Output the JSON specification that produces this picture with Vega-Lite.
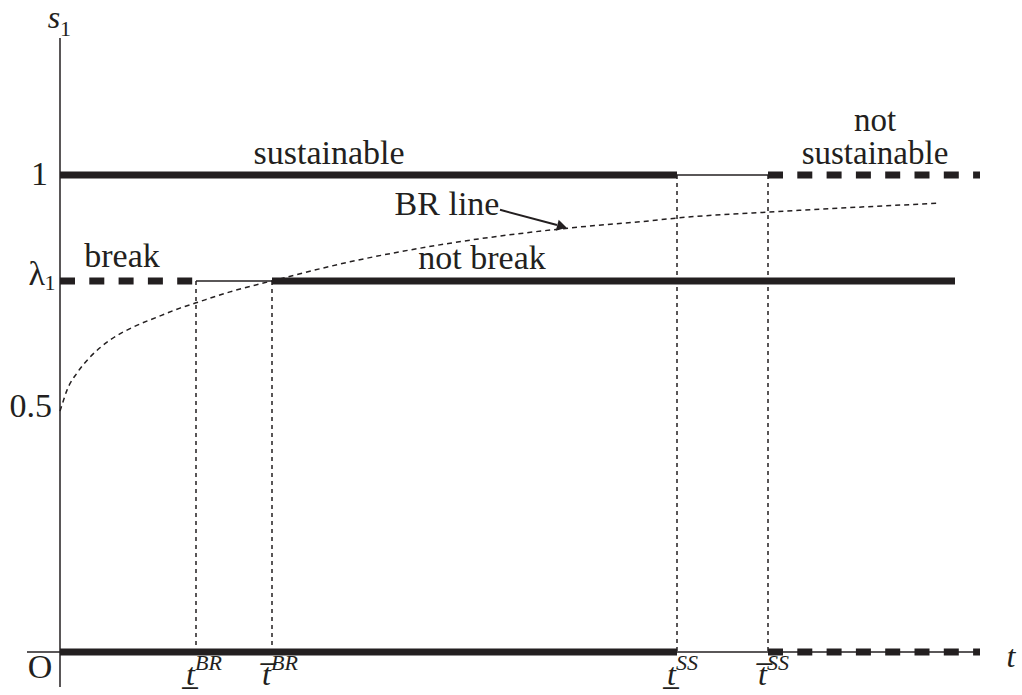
{
  "$schema": "https://vega.github.io/schema/vega-lite/v6.json",
  "width": 1022,
  "height": 695,
  "padding": 0,
  "autosize": {"type": "none"},
  "background": "white",
  "config": {
    "view": {"stroke": null},
    "text": {"font": "Liberation Serif", "fontSize": 34, "color": "#231f20"},
    "rule": {"color": "#231f20"},
    "line": {"color": "#231f20"}
  },
  "datasets": {
    "axes": [
      {"t1": -0.33, "t2": 9.15, "s1": 0, "s2": 0},
      {"t1": 0, "t2": 0, "s1": -0.0734, "s2": 1.287}
    ],
    "segments": [
      {"t1": 0, "t2": 6.17, "s": 1, "style": "solid"},
      {"t1": 6.17, "t2": 7.08, "s": 1, "style": "thin"},
      {"t1": 7.08, "t2": 9.2, "s": 1, "style": "dashed"},
      {"t1": 0, "t2": 1.36, "s": 0.778, "style": "dashed"},
      {"t1": 1.36, "t2": 2.12, "s": 0.778, "style": "thin"},
      {"t1": 2.12, "t2": 8.95, "s": 0.778, "style": "solid"},
      {"t1": 0, "t2": 6.17, "s": 0, "style": "solid"},
      {"t1": 7.08, "t2": 9.2, "s": 0, "style": "dashed"}
    ],
    "verticals": [
      {"t": 1.36, "s0": 0, "s": 0.778},
      {"t": 2.12, "s0": 0, "s": 0.778},
      {"t": 6.17, "s0": 0, "s": 1},
      {"t": 7.08, "s0": 0, "s": 1}
    ],
    "curve": [
      {"t": 0, "s": 0.505},
      {"t": 0.02, "s": 0.518},
      {"t": 0.07, "s": 0.549},
      {"t": 0.17, "s": 0.585},
      {"t": 0.3, "s": 0.618},
      {"t": 0.5, "s": 0.654},
      {"t": 0.73, "s": 0.681},
      {"t": 0.97, "s": 0.702},
      {"t": 1.2, "s": 0.721},
      {"t": 1.36, "s": 0.732},
      {"t": 1.7, "s": 0.755},
      {"t": 2.12, "s": 0.778},
      {"t": 2.9, "s": 0.818},
      {"t": 3.9, "s": 0.857},
      {"t": 5.1, "s": 0.889},
      {"t": 5.9, "s": 0.904},
      {"t": 6.18, "s": 0.91},
      {"t": 7.07, "s": 0.922},
      {"t": 8.8, "s": 0.941}
    ],
    "arrow": [
      {"t1": 4.4, "s1": 0.927, "t2": 4.97, "s2": 0.895}
    ],
    "arrowhead": [
      {"t": 5.02, "s": 0.892}
    ],
    "labels": [
      {"t": 2.69, "s": 1.023, "text": "sustainable", "kind": "center"},
      {"t": 8.15, "s": 1.0922, "text": "not\nsustainable", "kind": "stack"},
      {"t": 0.62, "s": 0.807, "text": "break", "kind": "center"},
      {"t": 4.22, "s": 0.803, "text": "not break", "kind": "center"},
      {"t": 3.87, "s": 0.916, "text": "BR line", "kind": "center"},
      {"t": -0.2, "s": -0.0545, "text": "O", "kind": "center"},
      {"t": -0.12, "s": 0.979, "text": "1", "kind": "right"},
      {"t": -0.08, "s": 0.493, "text": "0.5", "kind": "right"},
      {"t": -0.15, "s": 0.769, "text": "λ", "kind": "right"},
      {"t": -0.155, "s": 0.759, "text": "1", "kind": "sub"},
      {"t": 0.0, "s": 1.291, "text": "1", "kind": "sub"},
      {"t": -0.06, "s": 1.308, "text": "s", "kind": "italic"},
      {"t": 9.51, "s": -0.0314, "text": "t", "kind": "italic"}
    ],
    "ticks": [
      {"t": 1.36, "main": "t̲", "sup": "BR"},
      {"t": 2.12, "main": "t̅", "sup": "BR"},
      {"t": 6.17, "main": "t̲", "sup": "SS"},
      {"t": 7.08, "main": "t̅", "sup": "SS"}
    ]
  },
  "layer": [
    {
      "data": {"name": "axes"},
      "mark": {"type": "rule", "strokeWidth": 1.5},
      "encoding": {
        "x": {"field": "t1", "type": "quantitative", "scale": {"domain": [-0.6, 9.62], "nice": false, "zero": false}, "axis": null},
        "x2": {"field": "t2"},
        "y": {"field": "s1", "type": "quantitative", "scale": {"domain": [-0.09015, 1.36688], "nice": false, "zero": false}, "axis": null},
        "y2": {"field": "s2"}
      }
    },
    {
      "data": {"name": "segments"},
      "transform": [{"filter": "datum.style === 'thin'"}],
      "mark": {"type": "rule", "strokeWidth": 1.5},
      "encoding": {
        "x": {"field": "t1", "type": "quantitative", "scale": {"domain": [-0.6, 9.62], "nice": false, "zero": false}, "axis": null},
        "x2": {"field": "t2"},
        "y": {"field": "s", "type": "quantitative", "scale": {"domain": [-0.09015, 1.36688], "nice": false, "zero": false}, "axis": null}
      }
    },
    {
      "data": {"name": "verticals"},
      "mark": {"type": "rule", "strokeWidth": 1.5, "strokeDash": [4, 4]},
      "encoding": {
        "x": {"field": "t", "type": "quantitative", "scale": {"domain": [-0.6, 9.62], "nice": false, "zero": false}, "axis": null},
        "y": {"field": "s", "type": "quantitative", "scale": {"domain": [-0.09015, 1.36688], "nice": false, "zero": false}, "axis": null},
        "y2": {"field": "s0"}
      }
    },
    {
      "data": {"name": "curve"},
      "mark": {"type": "line", "strokeWidth": 1.5, "strokeDash": [5, 4], "interpolate": "monotone"},
      "encoding": {
        "x": {"field": "t", "type": "quantitative", "scale": {"domain": [-0.6, 9.62], "nice": false, "zero": false}, "axis": null},
        "y": {"field": "s", "type": "quantitative", "scale": {"domain": [-0.09015, 1.36688], "nice": false, "zero": false}, "axis": null}
      }
    },
    {
      "data": {"name": "segments"},
      "transform": [{"filter": "datum.style === 'solid'"}],
      "mark": {"type": "rule", "strokeWidth": 7},
      "encoding": {
        "x": {"field": "t1", "type": "quantitative", "scale": {"domain": [-0.6, 9.62], "nice": false, "zero": false}, "axis": null},
        "x2": {"field": "t2"},
        "y": {"field": "s", "type": "quantitative", "scale": {"domain": [-0.09015, 1.36688], "nice": false, "zero": false}, "axis": null}
      }
    },
    {
      "data": {"name": "segments"},
      "transform": [{"filter": "datum.style === 'dashed'"}],
      "mark": {"type": "rule", "strokeWidth": 7, "strokeDash": [15, 14.3]},
      "encoding": {
        "x": {"field": "t1", "type": "quantitative", "scale": {"domain": [-0.6, 9.62], "nice": false, "zero": false}, "axis": null},
        "x2": {"field": "t2"},
        "y": {"field": "s", "type": "quantitative", "scale": {"domain": [-0.09015, 1.36688], "nice": false, "zero": false}, "axis": null}
      }
    },
    {
      "data": {"name": "arrow"},
      "mark": {"type": "rule", "strokeWidth": 2},
      "encoding": {
        "x": {"field": "t1", "type": "quantitative", "scale": {"domain": [-0.6, 9.62], "nice": false, "zero": false}, "axis": null},
        "x2": {"field": "t2"},
        "y": {"field": "s1", "type": "quantitative", "scale": {"domain": [-0.09015, 1.36688], "nice": false, "zero": false}, "axis": null},
        "y2": {"field": "s2"}
      }
    },
    {
      "data": {"name": "arrowhead"},
      "mark": {"type": "point", "shape": "triangle-right", "filled": true, "size": 130, "angle": 15, "color": "#231f20", "opacity": 1},
      "encoding": {
        "x": {"field": "t", "type": "quantitative", "scale": {"domain": [-0.6, 9.62], "nice": false, "zero": false}, "axis": null},
        "y": {"field": "s", "type": "quantitative", "scale": {"domain": [-0.09015, 1.36688], "nice": false, "zero": false}, "axis": null}
      }
    },
    {
      "data": {"name": "labels"},
      "transform": [{"filter": "datum.kind === 'center'"}],
      "mark": {"type": "text", "align": "center", "baseline": "alphabetic", "font": "Liberation Serif", "fontSize": 34},
      "encoding": {
        "x": {"field": "t", "type": "quantitative", "scale": {"domain": [-0.6, 9.62], "nice": false, "zero": false}, "axis": null},
        "y": {"field": "s", "type": "quantitative", "scale": {"domain": [-0.09015, 1.36688], "nice": false, "zero": false}, "axis": null},
        "text": {"field": "text"}
      }
    },
    {
      "data": {"name": "labels"},
      "transform": [{"filter": "datum.kind === 'stack'"}],
      "mark": {"type": "text", "align": "center", "baseline": "alphabetic", "font": "Liberation Serif", "fontSize": 33, "lineBreak": "\n", "lineHeight": 33},
      "encoding": {
        "x": {"field": "t", "type": "quantitative", "scale": {"domain": [-0.6, 9.62], "nice": false, "zero": false}, "axis": null},
        "y": {"field": "s", "type": "quantitative", "scale": {"domain": [-0.09015, 1.36688], "nice": false, "zero": false}, "axis": null},
        "text": {"field": "text"}
      }
    },
    {
      "data": {"name": "labels"},
      "transform": [{"filter": "datum.kind === 'right'"}],
      "mark": {"type": "text", "align": "right", "baseline": "alphabetic", "font": "Liberation Serif", "fontSize": 34},
      "encoding": {
        "x": {"field": "t", "type": "quantitative", "scale": {"domain": [-0.6, 9.62], "nice": false, "zero": false}, "axis": null},
        "y": {"field": "s", "type": "quantitative", "scale": {"domain": [-0.09015, 1.36688], "nice": false, "zero": false}, "axis": null},
        "text": {"field": "text"}
      }
    },
    {
      "data": {"name": "labels"},
      "transform": [{"filter": "datum.kind === 'sub'"}],
      "mark": {"type": "text", "align": "left", "baseline": "alphabetic", "font": "Liberation Serif", "fontSize": 22},
      "encoding": {
        "x": {"field": "t", "type": "quantitative", "scale": {"domain": [-0.6, 9.62], "nice": false, "zero": false}, "axis": null},
        "y": {"field": "s", "type": "quantitative", "scale": {"domain": [-0.09015, 1.36688], "nice": false, "zero": false}, "axis": null},
        "text": {"field": "text"}
      }
    },
    {
      "data": {"name": "labels"},
      "transform": [{"filter": "datum.kind === 'italic'"}],
      "mark": {"type": "text", "align": "center", "baseline": "alphabetic", "font": "Liberation Serif", "fontStyle": "italic", "fontSize": 32},
      "encoding": {
        "x": {"field": "t", "type": "quantitative", "scale": {"domain": [-0.6, 9.62], "nice": false, "zero": false}, "axis": null},
        "y": {"field": "s", "type": "quantitative", "scale": {"domain": [-0.09015, 1.36688], "nice": false, "zero": false}, "axis": null},
        "text": {"field": "text"}
      }
    },
    {
      "data": {"name": "ticks"},
      "mark": {"type": "text", "align": "right", "baseline": "alphabetic", "font": "Liberation Serif", "fontStyle": "italic", "fontSize": 32, "dx": -1},
      "encoding": {
        "x": {"field": "t", "type": "quantitative", "scale": {"domain": [-0.6, 9.62], "nice": false, "zero": false}, "axis": null},
        "y": {"datum": -0.069, "type": "quantitative", "scale": {"domain": [-0.09015, 1.36688], "nice": false, "zero": false}, "axis": null},
        "text": {"field": "main"}
      }
    },
    {
      "data": {"name": "ticks"},
      "mark": {"type": "text", "align": "left", "baseline": "alphabetic", "font": "Liberation Serif", "fontStyle": "italic", "fontSize": 22, "dx": -1},
      "encoding": {
        "x": {"field": "t", "type": "quantitative", "scale": {"domain": [-0.6, 9.62], "nice": false, "zero": false}, "axis": null},
        "y": {"datum": -0.037, "type": "quantitative", "scale": {"domain": [-0.09015, 1.36688], "nice": false, "zero": false}, "axis": null},
        "text": {"field": "sup"}
      }
    }
  ]
}
